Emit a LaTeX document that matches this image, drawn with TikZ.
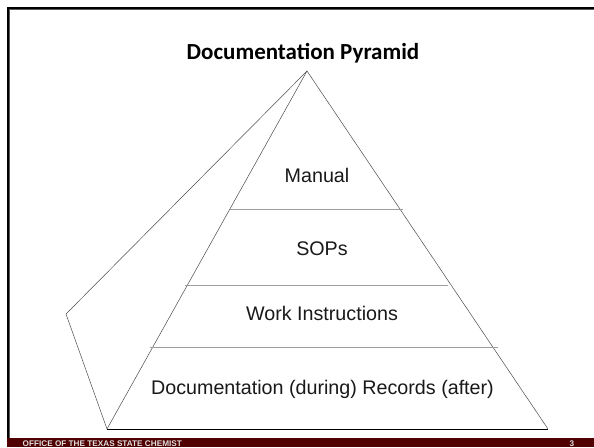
\documentclass[tikz,border=0pt]{standalone}
\usepackage{fontspec}
\setmainfont{Liberation Sans}
\newfontfamily\titlefont{Carlito}
\definecolor{maroon}{HTML}{500000}
\tikzset{
  thin line/.style={draw=black!70,line width=0.5pt},
  tier/.style={draw=black!38,line width=0.45pt},
  label/.style={font=\fontsize{19.7}{22}\selectfont,text=black!90,inner sep=0pt},
  foot/.style={font=\bfseries\fontsize{8.2}{9}\selectfont,text=black!12,inner sep=0pt},
}
\begin{document}
\begin{tikzpicture}[x=1pt,y=-1pt]
\useasboundingbox (0,0) rectangle (594,447);
\clip (0,0) rectangle (594,447);
\fill[white] (0,0) rectangle (594,447);
\fill[black!65] (7,7) rectangle (594,10);
\fill[black!65] (7,7) rectangle (10,447);
\fill[black] (7,7) rectangle (594,9.3);
\fill[black] (7,7) rectangle (9.3,447);
\fill[maroon] (7,438) rectangle (594,447);
\coordinate (apex) at (307,71);
\coordinate (bl) at (107,429);
\coordinate (br) at (548,429);
\coordinate (out) at (66,314);
\coordinate (t1l) at (230,209); \coordinate (t1r) at (403,209);
\coordinate (t2l) at (185,285); \coordinate (t2r) at (448,285);
\coordinate (t3l) at (150,347); \coordinate (t3r) at (498,347);
\draw[thin line] (bl) -- (apex) -- (br);
\draw[black,line width=0.8pt] (bl) -- (br);
\draw[thin line] (apex) -- (out) -- (bl);
\draw[tier] (t1l) -- (t1r);
\draw[tier] (t2l) -- (t2r);
\draw[tier] (t3l) -- (t3r);
\node[font=\titlefont\bfseries\fontsize{23}{26}\selectfont,inner sep=0pt] (title) at (303,53) {Documentation Pyramid};
\node[label] (manual) at (317,175) {Manual};
\node[label] (sops) at (322,249) {SOPs};
\node[label] (work) at (322,313) {Work Instructions};
\node[label] (docs) at (322.5,389) {Documentation (during) Records (after)};
\node[foot,anchor=base west] (footer) at (22.5,446.6) {OFFICE OF THE TEXAS STATE CHEMIST};
\node[foot,anchor=base] (num) at (572,446.6) {3};
\end{tikzpicture}
\end{document}
